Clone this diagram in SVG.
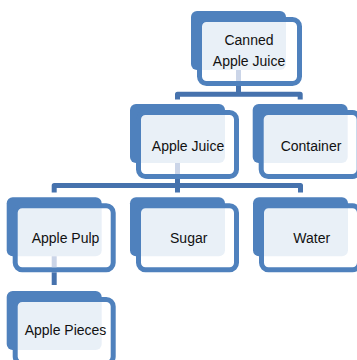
<svg xmlns="http://www.w3.org/2000/svg" width="357" height="360" viewBox="0 0 357 360">
<style>
.back{fill:#4F81BD;}
.front{fill:#FFFFFF;fill-opacity:0.88;stroke:#4F81BD;stroke-width:5;}
.lbl{font-family:"Liberation Sans",Arial,sans-serif;font-size:14px;fill:#111111;text-anchor:middle;}
.conn{fill:none;stroke:#4672AD;stroke-width:5;stroke-linejoin:round;}
.stub{fill:none;stroke:#CBD5E8;stroke-width:5;}
</style>
<rect width="357" height="360" fill="#FFFFFF"/>
<g id="n-canned" transform="translate(191,11)">
<rect class="back" width="95" height="59" rx="6"/>
<rect class="front" x="8.5" y="8.5" width="100" height="64" rx="7"/>
<text class="lbl" x="58" y="34">Canned</text>
<text class="lbl" x="58" y="55">Apple Juice</text>
</g>
<g id="n-applejuice" transform="translate(130,104)">
<rect class="back" width="95" height="59" rx="6"/>
<rect class="front" x="8.5" y="8.5" width="98" height="64" rx="7"/>
<text class="lbl" x="58" y="46.7">Apple Juice</text>
</g>
<g id="n-container" transform="translate(252.7,104)">
<rect class="back" width="95" height="59" rx="6"/>
<rect class="front" x="8.5" y="8.5" width="98" height="64" rx="7"/>
<text class="lbl" x="58.3" y="46.7">Container</text>
</g>
<g id="n-applepulp" transform="translate(6.7,197.3)">
<rect class="back" width="95" height="59" rx="6"/>
<rect class="front" x="8.5" y="8.5" width="98" height="64" rx="7"/>
<text class="lbl" x="58.8" y="46">Apple Pulp</text>
</g>
<g id="n-sugar" transform="translate(130,197.3)">
<rect class="back" width="95" height="59" rx="6"/>
<rect class="front" x="8.5" y="8.5" width="98" height="64" rx="7"/>
<text class="lbl" x="58.7" y="46">Sugar</text>
</g>
<g id="n-water" transform="translate(253,197.3)">
<rect class="back" width="95" height="59" rx="6"/>
<rect class="front" x="8.5" y="8.5" width="98" height="64" rx="7"/>
<text class="lbl" x="58.7" y="46">Water</text>
</g>
<g id="n-applepieces" transform="translate(6.7,291)">
<rect class="back" width="95" height="59" rx="6"/>
<rect class="front" x="8.5" y="8.5" width="98" height="64" rx="7"/>
<text class="lbl" x="58.8" y="44">Apple Pieces</text>
</g>
<g id="connectors">
<path class="stub" d="M238.5,70 V81 M177.5,163 V174 M54.2,256.3 V267.3"/>
<path class="conn" d="M238.5,86 V94.2 M177.5,99.5 V94.2 H300.2 V99.5"/>
<path class="conn" d="M177.5,179 V185.5 M54.2,192.5 V185.5 H300.5 V192.5 M177.5,185.5 V192.5"/>
<path class="conn" d="M54.2,272.3 V285"/>
</g>
</svg>
